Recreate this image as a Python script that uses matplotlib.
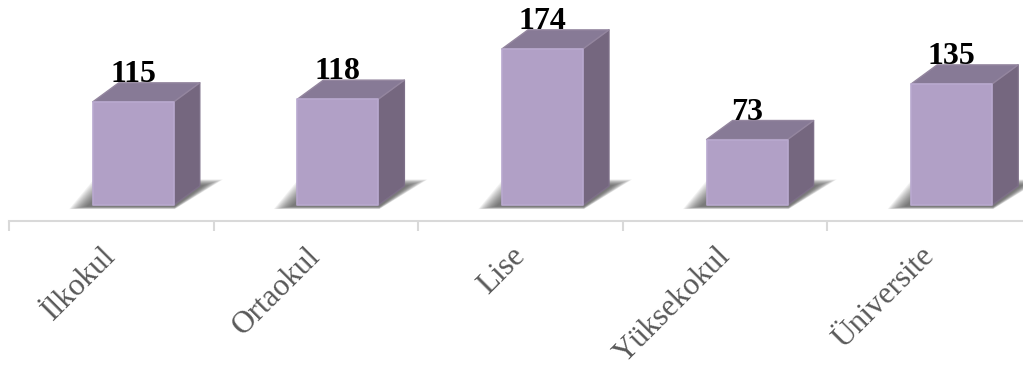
import matplotlib
matplotlib.use('Agg')
import matplotlib.pyplot as plt
from matplotlib.patches import Polygon

categories = ['İlkokul', 'Ortaokul', 'Lise', 'Yüksekokul', 'Üniversite']
values = [115, 118, 174, 73, 135]

plt.rcParams['font.family'] = ['Liberation Serif', 'DejaVu Serif']

W, H = 1023, 365
fig = plt.figure(figsize=(W / 100, H / 100), dpi=100)
# axes runs past the right edge, the last category is cut off a bit
ax = fig.add_axes([9 / W, (H - 221) / H, 1023 / W, 221 / H])
ax.set_xlim(-0.5, 4.5)
ax.set_ylim(-17.8, 228.5)

# sizes of the fake 3d box, in data units
bar_w = 0.396
shift = 0.1075
dx = 0.127
dy = 21.2


def draw_shadow(x0, x1):
    # stacked see through polygons to get a soft edge
    n = 16
    for i in range(n):
        s = i / n
        left = x0 - 0.115 + 0.09 * s
        right = x1 + 0.005
        low = -4.5 + 3 * s
        high = 28.5 - 7 * s
        pts = [(left, low), (right, low),
               (right + 0.235 - 0.10 * s, high), (left + 0.12, high)]
        ax.add_patch(Polygon(pts, closed=True, fc='#4a4a4a', ec='none', alpha=0.075, zorder=1))


def draw_box(x, val):
    x0 = x + shift - bar_w / 2
    x1 = x + shift + bar_w / 2
    draw_shadow(x0, x1)
    side = [(x1, 0), (x1 + dx, dy), (x1 + dx, val + dy), (x1, val)]
    top = [(x0, val), (x1, val), (x1 + dx, val + dy), (x0 + dx, val + dy)]
    front = [(x0, 0), (x1, 0), (x1, val), (x0, val)]
    ax.add_patch(Polygon(side, closed=True, fc='#75677f', ec='#7d6f88', lw=1, joinstyle='round', zorder=2))
    ax.add_patch(Polygon(top, closed=True, fc='#877a96', ec='#94869f', lw=1, joinstyle='round', zorder=2))
    ax.add_patch(Polygon(front, closed=True, fc='#b1a0c6', ec='#b9a9cf', lw=1.2, joinstyle='round', zorder=3))
    ax.text(x + shift, val + dy + 1, str(val), ha='center', va='baseline', fontsize=23,
            fontweight='bold', color='black', zorder=4)


for i, v in enumerate(values):
    draw_box(i, v)

for s in ['top', 'left', 'right']:
    ax.spines[s].set_visible(False)
ax.spines['bottom'].set_color('#d9d9d9')
ax.spines['bottom'].set_linewidth(1.5)
ax.set_yticks([])
ax.set_xticks([i - 0.5 for i in range(6)])
ax.set_xticklabels([])
ax.tick_params(axis='x', length=7, width=1.5, color='#d9d9d9')

for i, name in enumerate(categories):
    ax.annotate(name, xy=(i, -17.8), xycoords='data', xytext=(-7, -15), textcoords='offset points',
                rotation=45, rotation_mode='anchor', ha='right', va='top',
                fontsize=22.5, color='#595959', annotation_clip=False)

fig.savefig('out.png', dpi=100, facecolor='white')
